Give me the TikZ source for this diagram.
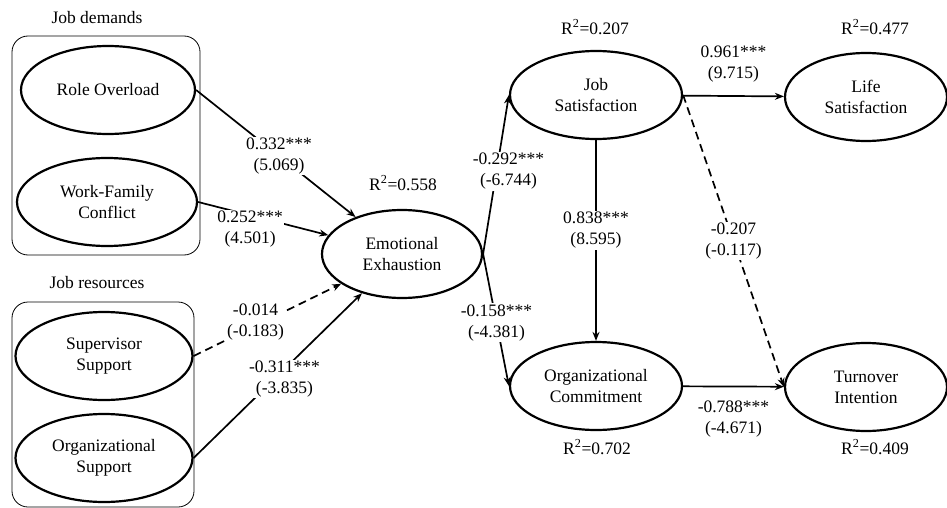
\documentclass[tikz,border=0pt]{standalone}
\usepackage{fontspec}
\setmainfont{Liberation Serif}
\usetikzlibrary{shapes.geometric,arrows.meta}

\begin{document}
\begin{tikzpicture}[x=1pt,y=-1pt,>={Stealth[length=9pt,width=7pt]},
  font=\fontsize{17.5}{21}\selectfont,
  lat/.style={ellipse,draw,line width=2.2pt,minimum height=88pt,align=center,inner sep=0pt},
  grp/.style={draw,line width=0.8pt,rounded corners=16pt},
  pth/.style={->,line width=1.7pt},
  nspth/.style={pth,dash pattern=on 8pt off 5pt},
  coef/.style={fill=white,align=center,inner sep=1pt}]
  \useasboundingbox (0,0) rectangle (947,508);
  % construct groups
  \draw[grp] (12,36) rectangle (200,255);
  \draw[grp] (12,302) rectangle (194,507);
  \node (jd) at (97,18) {Job demands};
  \node (jr) at (97,283) {Job resources};
  % latent variables
  \foreach \n/\x/\y/\w/\t in
  {
    ro/108/90/174/{Role Overload},
    wfc/107/202/180/{Work-Family\\Conflict},
    ss/104/356/177/{Supervisor\\Support},
    os/104/458/177/{Organizational\\Support},
    ee/402/254/160/{Emotional\\Exhaustion},
    js/596/95/172/{Job\\Satisfaction},
    oc/596/386/172/{Organizational\\Commitment},
    ls/866/97/162/{Life\\Satisfaction},
    ti/866/387/162/{Turnover\\Intention}%
  }
  {
    \node[lat,minimum width=\w pt] (\n) at (\x,\y) {\t};
  }
  % explained variance
  \node (r2ee) at (403,183) {R\textsuperscript{2}=0.558};
  \node (r2js) at (595,27) {R\textsuperscript{2}=0.207};
  \node (r2ls) at (875,27) {R\textsuperscript{2}=0.477};
  \node (r2oc) at (597,447) {R\textsuperscript{2}=0.702};
  \node (r2ti) at (875,447) {R\textsuperscript{2}=0.409};
  % paths
  \draw[pth] (ro.east) -- node[coef,pos=0.52]{0.332***\\(5.069)} (ee);
  \draw[pth] (wfc.east) -- node[coef,pos=0.4,yshift=-14pt]{0.252***\\(4.501)} (ee);
  \draw[nspth] (ss.east) -- node[coef,pos=0.42,yshift=4pt]{-0.014\\(-0.183)} (ee);
  \draw[pth] (os.east) -- node[coef,pos=0.48,xshift=10pt]{-0.311***\\(-3.835)} (ee);
  \draw[pth] (ee.east) -- node[coef,pos=0.52,xshift=12pt]{-0.292***\\(-6.744)} (js.west);
  \draw[pth] (ee.east) -- node[coef,pos=0.52]{-0.158***\\(-4.381)} (oc.west);
  \draw[pth] (js) -- node[coef,pos=0.45]{0.838***\\(8.595)} (oc);
  \draw[pth] (js) -- node[coef,above=12pt]{0.961***\\(9.715)} (ls);
  \draw[pth] (oc) -- node[coef,below=12pt]{-0.788***\\(-4.671)} (ti);
  \draw[nspth] (js.east) -- node[coef,pos=0.5]{-0.207\\(-0.117)} (ti.west);
\end{tikzpicture}
\end{document}
